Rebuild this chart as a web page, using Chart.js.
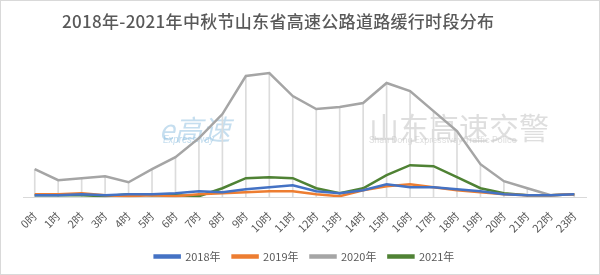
<!DOCTYPE html>
<html>
<head>
<meta charset="utf-8">
<script src="https://cdn.jsdelivr.net/npm/chart.js@4"></script>
<style>
  body { margin: 0; background: #fff; }
  #wrap { position: relative; width: 598px; height: 273px; border: 1px solid #d9d9d9; }
  #title {
    position: absolute; left: 61px; top: 7px;
    font: 500 17px "Noto Sans CJK SC"; color: #595959; letter-spacing: 0.3px;
  }
</style>
</head>
<body>
<div id="wrap">
  <div id="title">2018年-2021年中秋节山东省高速公路道路缓行时段分布</div>
  <canvas id="chart" width="598" height="273"></canvas>
</div>
<script>
const hours = ["0时", "1时", "2时", "3时", "4时", "5时", "6时", "7时", "8时", "9时", "10时", "11时",
  "12时", "13时", "14时", "15时", "16时", "17时", "18时", "19时", "20时", "21时", "22时", "23时"]

const y2018 = [2, 2, 3, 2, 3, 3, 4, 6, 5, 8, 10, 12, 6, 4, 7, 13, 10, 10, 8, 6, 3, 2, 2, 3]
const y2019 = [3, 3, 4, 2, 1, 2, 1, 3, 4, 5, 6, 6, 3, 1, 7, 11, 13, 10, 7, 5, 3, 2, 2, 3]
const y2020 = [28, 17, 19, 21, 15, 28, 40, 59, 83, 121, 124, 101, 88, 90, 94, 114, 106, 86, 66, 33, 16, 9, 2, 3]
const y2021 = [2, 2, 2, 1, 3, 2, 2, 1, 9, 19, 20, 19, 9, 4, 9, 22, 32, 31, 20, 9, 4, 2, 2, 3]

// faint logo texts behind the plot
const watermark = {
  id: "watermark",
  beforeDatasetsDraw(chart) {
    const c = chart.ctx
    c.save()
    c.fillStyle = "rgba(150,195,225,0.55)"
    c.font = "italic 28px 'Noto Sans CJK SC'"
    c.fillText("e高速", 158, 128)
    c.font = "italic 10px Roboto"
    c.fillText("Expressway", 162, 139)
    c.fillStyle = "rgba(200,200,200,0.6)"
    c.font = "30px 'Noto Sans CJK SC'"
    c.fillText("山东高速交警", 368, 127)
    c.font = "9px Roboto"
    c.fillText("Shan Dong Expressway Traffic Police", 368, 140)
    c.restore()
  }
}

new Chart(document.getElementById("chart"), {
  type: "line",
  data: {
    labels: hours,
    datasets: [
      { label: "2018年", data: y2018, borderColor: "#4472C4", backgroundColor: "#4472C4", order: 1 },
      { label: "2019年", data: y2019, borderColor: "#ED7D31", backgroundColor: "#ED7D31", order: 1 },
      { label: "2020年", data: y2020, borderColor: "#A5A5A5", backgroundColor: "#A5A5A5", order: 1 },
      { label: "2021年", data: y2021, borderColor: "#4F8234", backgroundColor: "#4F8234", order: 1 },
      { label: "drop", type: "bar", data: y2020, backgroundColor: "#dcdcdc", barThickness: 1, order: 5 }
    ]
  },
  options: {
    responsive: false,
    animation: false,
    layout: { padding: { top: 66, left: 22, right: 13, bottom: 2 } },
    elements: {
      line: { borderWidth: 2.5, tension: 0 },
      point: { radius: 0 }
    },
    scales: {
      x: {
        offset: true,
        grid: { display: false },
        border: { color: "#d9d9d9" },
        ticks: {
          color: "#595959",
          font: { size: 11, family: "'Noto Sans CJK SC'" },
          minRotation: 45, maxRotation: 45, autoSkip: false, padding: 4
        }
      },
      y: { display: false, min: 0, max: 130 }
    },
    plugins: {
      title: { display: false },
      legend: {
        position: "bottom",
        labels: {
          color: "#595959",
          font: { size: 11, family: "'Noto Sans CJK SC'" },
          boxWidth: 25, boxHeight: 2, padding: 12,
          filter: item => item.text !== "drop"
        }
      },
      tooltip: { enabled: false }
    }
  },
  plugins: [watermark]
})
</script>
</body>
</html>
